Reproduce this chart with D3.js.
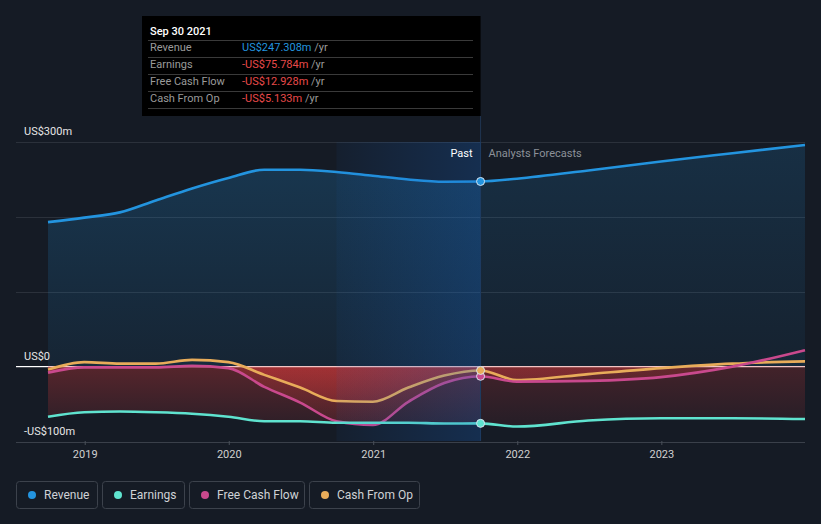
<!DOCTYPE html>
<html><head><meta charset="utf-8">
<script src="https://cdn.jsdelivr.net/npm/d3@7"></script>
<style>
html,body{margin:0;padding:0;background:#151b25;}
svg{display:block;font-family:Roboto,"Open Sans",sans-serif;}
</style></head><body>
<svg id="c" width="821" height="524"></svg>
<script>
// ---- data ----
const pastDates = ["2018-09-30","2018-12-31","2019-03-31","2019-06-30","2019-09-30","2019-12-31","2020-03-31","2020-06-30","2020-09-30","2020-12-31","2021-03-31","2021-06-30","2021-09-30"];
const revenuePast = [193,199,206,222,238,252,263,263,260,255,250,247,247.308];
const earningsPast = [-67,-61,-60,-61,-63,-67,-73,-73,-75,-75,-75,-76,-75.784];
const fcfPast = [-8,-1,-1,-1,1,-2,-27,-48,-73,-78,-47,-22,-12.928];
const cfoPast = [-4,6,4,4,9,6,-11,-28,-46,-47,-28,-12,-5.133];

const fcDates = ["2021-09-30","2021-12-31","2022-06-30","2022-12-31","2023-06-30","2023-12-31"];
const revenueFc = [247.308,251,262,274,285,296];
const earningsFc = [-75.784,-80,-72,-69,-69,-70];
const fcfFc = [-12.928,-20,-19,-14,0,22];
const cfoFc = [-5.133,-18,-10,-2,4,7];

const yTicks = [300,200,100,0,-100];
const yLabels = {300:"US$300m",0:"US$0",[-100]:"-US$100m"};
const xTickYears = [2019,2020,2021,2022,2023];

const series = [
  {name:"Revenue", color:"#2394df", past:revenuePast, fc:revenueFc, value:"US$247.308m", vcol:"#2394df"},
  {name:"Earnings", color:"#5fe3cf", past:earningsPast, fc:earningsFc, value:"-US$75.784m", vcol:"#e84a4a"},
  {name:"Free Cash Flow", color:"#c9498d", past:fcfPast, fc:fcfFc, value:"-US$12.928m", vcol:"#e84a4a"},
  {name:"Cash From Op", color:"#e8ac5a", past:cfoPast, fc:cfoFc, value:"-US$5.133m", vcol:"#e84a4a"}
];

// ---- scales ----
const parse = d3.timeParse("%Y-%m-%d");
const x = d3.scaleTime().domain([parse("2018-09-30"), parse("2023-12-31")]).range([48,805]);
const y = d3.scaleLinear().domain([-100,300]).range([441.5,142]);
const svg = d3.select("#c");
const defs = svg.append("defs");

svg.append("rect").attr("width",821).attr("height",524).attr("fill","#151b25");

const cutX = x(parse("2021-09-30"));
const bandX = x(parse("2020-09-30"));

// gridlines
yTicks.forEach(t=>{
  if(t===0) return;
  svg.append("line").attr("x1",16).attr("x2",805).attr("y1",Math.round(y(t))+0.5).attr("y2",Math.round(y(t))+0.5)
    .attr("stroke", t===-100? "#3a404a":"#2b313b").attr("stroke-width",1);
});

// gradients for areas
const rg = defs.append("linearGradient").attr("id","revg").attr("gradientUnits","userSpaceOnUse").attr("x1",0).attr("x2",0).attr("y1",y(300)).attr("y2",y(0));
rg.append("stop").attr("offset",0).attr("stop-color","#2394df").attr("stop-opacity",0.24);
rg.append("stop").attr("offset",1).attr("stop-color","#2394df").attr("stop-opacity",0.08);
const ng = defs.append("linearGradient").attr("id","negg").attr("gradientUnits","userSpaceOnUse").attr("x1",0).attr("x2",0).attr("y1",y(0)).attr("y2",y(-100));
ng.append("stop").attr("offset",0).attr("stop-color","#e23b3b").attr("stop-opacity",0.32);
ng.append("stop").attr("offset",1).attr("stop-color","#e23b3b").attr("stop-opacity",0.06);
const pg = defs.append("linearGradient").attr("id","posg").attr("gradientUnits","userSpaceOnUse").attr("x1",0).attr("x2",0).attr("y1",y(50)).attr("y2",y(0));
pg.append("stop").attr("offset",0).attr("stop-color","#2394df").attr("stop-opacity",0.1);
pg.append("stop").attr("offset",1).attr("stop-color","#2394df").attr("stop-opacity",0.05);
const bg = defs.append("linearGradient").attr("id","band").attr("x1",0).attr("x2",1).attr("y1",0).attr("y2",0);
bg.append("stop").attr("offset",0).attr("stop-color","#1565c8").attr("stop-opacity",0.06);
bg.append("stop").attr("offset",1).attr("stop-color","#1565c8").attr("stop-opacity",0.26);

defs.append("clipPath").attr("id","neg").append("rect").attr("x",0).attr("y",y(0)).attr("width",821).attr("height",200);
defs.append("clipPath").attr("id","pos").append("rect").attr("x",0).attr("y",0).attr("width",821).attr("height",y(0));

function pts(dates, vals){ return dates.map((d,i)=>({d:parse(d), v:vals[i]})); }
const curve = d3.curveMonotoneX;
const area = d3.area().x(p=>x(p.d)).y0(y(0)).y1(p=>y(p.v)).curve(curve);
const line = d3.line().x(p=>x(p.d)).y(p=>y(p.v)).curve(curve);

// areas
series.forEach((s,i)=>{
  [[s.past,pastDates,1],[s.fc,fcDates,0.7]].forEach(([vals,dates,op])=>{
    const p = pts(dates, vals);
    if(i===0){
      svg.append("path").attr("d",area(p)).attr("fill","url(#revg)").attr("opacity",op);
    } else {
      svg.append("path").attr("d",area(p)).attr("fill","url(#negg)").attr("clip-path","url(#neg)").attr("opacity",op);
      svg.append("path").attr("d",area(p)).attr("fill","url(#posg)").attr("clip-path","url(#pos)").attr("opacity",op);
    }
  });
});

// zero line
svg.append("line").attr("x1",16).attr("x2",48).attr("y1",y(0)).attr("y2",y(0)).attr("stroke","#ffffff").attr("stroke-width",1.2);
svg.append("line").attr("x1",48).attr("x2",805).attr("y1",y(0)).attr("y2",y(0)).attr("stroke","#f3c4c4").attr("stroke-width",1.2);

// vertical marker line
svg.append("line").attr("x1",cutX).attr("x2",cutX).attr("y1",116).attr("y2",441).attr("stroke","#1f3550").attr("stroke-width",1);

// lines
[3,2,1,0].forEach(i=>{
  const s = series[i];
  const p = pts(pastDates, s.past).concat(pts(fcDates, s.fc).slice(1));
  svg.append("path").attr("d",line(p)).attr("fill","none").attr("stroke",s.color).attr("stroke-width",2.6);
});

// hover band (over lines)
svg.append("rect").attr("x",bandX).attr("y",142).attr("width",cutX-bandX).attr("height",441-142).attr("fill","url(#band)");

// markers
series.forEach(s=>{
  svg.append("circle").attr("cx",cutX).attr("cy",y(s.past[s.past.length-1])).attr("r",4)
    .attr("fill",s.color).attr("stroke","#d8e4f0").attr("stroke-width",1);
});

// y labels
Object.keys(yLabels).forEach(k=>{
  svg.append("text").attr("x",24).attr("y",y(+k)-7).attr("fill","#e6e6e6").attr("font-size",11).text(yLabels[k]);
});

// x axis
const xa = svg.append("g").attr("transform","translate(0,441)");
xa.call(d3.axisBottom(x).tickValues(xTickYears.map(yv=>new Date(yv,0,1))).tickFormat(d3.timeFormat("%Y")).tickSize(4).tickPadding(5));
xa.select(".domain").remove();
xa.selectAll(".tick line").attr("stroke","#4a505a");
xa.selectAll(".tick text").attr("fill","#d0d0d0").attr("font-size",11).attr("font-family","Roboto,sans-serif");

// Past / Analysts Forecasts
svg.append("text").attr("x",cutX-8).attr("y",157).attr("text-anchor","end").attr("fill","#ffffff").attr("font-size",11).text("Past");
svg.append("text").attr("x",cutX+8).attr("y",157).attr("fill","#8c9199").attr("font-size",11).text("Analysts Forecasts");

// tooltip
const tt = svg.append("g");
tt.append("rect").attr("x",142).attr("y",16).attr("width",cutX-142).attr("height",100).attr("fill","#000000");
tt.append("text").attr("x",150).attr("y",35).attr("fill","#ffffff").attr("font-size",11).attr("font-weight",500).text("Sep 30 2021");
[40,57,74,91,108].forEach(ly=>tt.append("line").attr("x1",148).attr("x2",473).attr("y1",ly+0.5).attr("y2",ly+0.5).attr("stroke","#3a3a3a"));
series.forEach((s,i)=>{
  const ty = 51+i*17;
  tt.append("text").attr("x",150).attr("y",ty).attr("fill","#9a9a9a").attr("font-size",11).text(s.name);
  const t = tt.append("text").attr("x",242).attr("y",ty).attr("font-size",11);
  t.append("tspan").attr("fill",s.vcol).text(s.value);
  t.append("tspan").attr("fill","#9a9a9a").text(" /yr");
});

// legend
const lx = [16,102,189,309], lw = [81,82,115,110];
series.forEach((s,i)=>{
  const g = svg.append("g").attr("transform",`translate(${lx[i]},481)`);
  g.append("rect").attr("x",0.5).attr("y",0.5).attr("width",lw[i]).attr("height",27).attr("rx",3).attr("fill","none").attr("stroke","#3c424c");
  g.append("circle").attr("cx",16).attr("cy",14).attr("r",4).attr("fill",s.color);
  g.append("text").attr("x",28).attr("y",18).attr("fill","#cfd2d6").attr("font-size",12).text(s.name);
});
</script>
</body></html>
